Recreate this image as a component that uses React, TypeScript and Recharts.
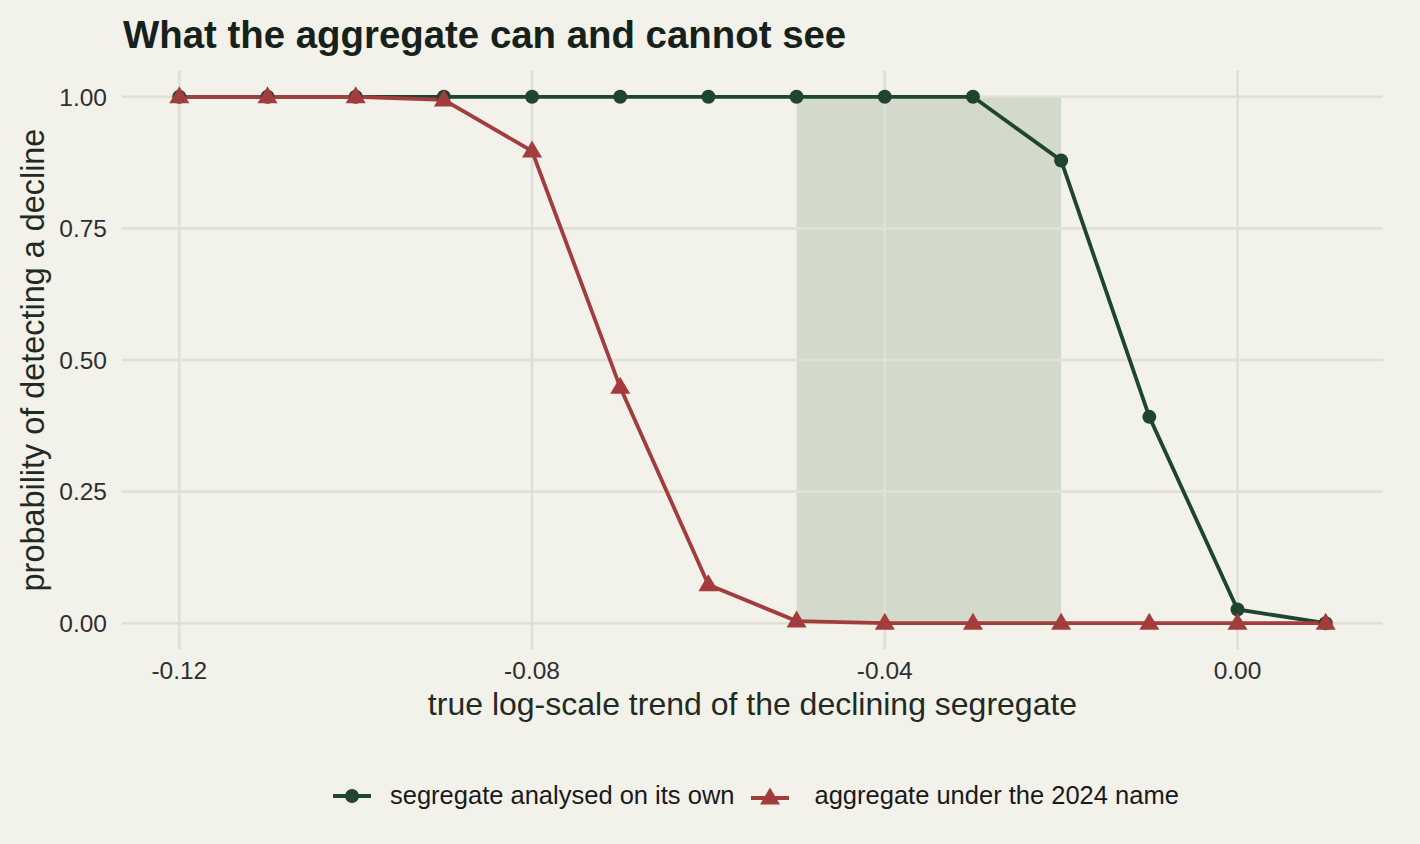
import React from 'react';
import {
  ComposedChart,
  Line,
  XAxis,
  YAxis,
  ReferenceLine,
  ReferenceArea,
  Legend,
} from 'recharts';

const trend = [-0.12, -0.11, -0.1, -0.09, -0.08, -0.07, -0.06, -0.05, -0.04, -0.03, -0.02, -0.01, 0, 0.01];
const segregateOwn = [1, 1, 1, 1, 1, 1, 1, 1, 1, 1, 0.879, 0.392, 0.026, 0];
const aggregate2024 = [1, 1, 1, 0.994, 0.897, 0.448, 0.073, 0.004, 0, 0, 0, 0, 0, 0];

const xTicks = [-0.12, -0.08, -0.04, 0];
const yTicks = [0, 0.25, 0.5, 0.75, 1];
const shadeRange = [-0.05, -0.02];

const seriesNames = ['segregate analysed on its own', 'aggregate under the 2024 name'];

const BG = '#f2f1ea';
const GRID = '#e1e0d5';
const GREEN = '#1f4530';
const RED = '#a33d3d';
const FONT = '"Liberation Sans", Arial, Helvetica, sans-serif';

const data = trend.map((t, i) => ({
  trend: t,
  own: segregateOwn[i],
  agg: aggregate2024[i],
}));

const fmtX = (v: number) => (v === 0 ? '0.00' : v.toFixed(2));
const fmtY = (v: number) => v.toFixed(2);

function Triangle(props: any) {
  const { cx, cy, index } = props;
  if (cx == null || cy == null) return <g key={`t-${index}`} />;
  return (
    <polygon
      key={`t-${index}`}
      points={`${cx},${cy - 10.5} ${cx - 10},${cy + 6.5} ${cx + 10},${cy + 6.5}`}
      fill={RED}
    />
  );
}

function LegendBox() {
  return (
    <div
      style={{
        display: 'flex',
        justifyContent: 'flex-start',
        alignItems: 'center',
        fontFamily: FONT,
        fontSize: 25.5,
        color: '#1a1a1a',
        paddingLeft: 333,
        whiteSpace: 'nowrap',
      }}
    >
      <svg width={38} height={22} style={{ marginRight: 19 }}>
        <line x1={0} y1={11} x2={38} y2={11} stroke={GREEN} strokeWidth={3.8} />
        <circle cx={19} cy={11} r={7} fill={GREEN} />
      </svg>
      <span style={{ marginRight: 17 }}>{seriesNames[0]}</span>
      <svg width={38} height={22} style={{ marginRight: 25 }}>
        <line x1={0} y1={13} x2={38} y2={13} stroke={RED} strokeWidth={3.8} />
        <polygon points="19,2.5 9,19.5 29,19.5" fill={RED} />
      </svg>
      <span>{seriesNames[1]}</span>
    </div>
  );
}

export default function App() {
  return (
    <div style={{ position: 'absolute', left: 0, top: 0, width: 1420, height: 844, background: BG }}>
      <svg width={1420} height={70} style={{ position: 'absolute', left: 0, top: 0 }}>
        <text x={123} y={48} fontFamily={FONT} fontSize={38.4} fontWeight={700} fill="#16211a">
          What the aggregate can and cannot see
        </text>
      </svg>
      <ComposedChart
        width={1420}
        height={844}
        data={data}
        margin={{ top: 70.5, right: 37, left: 0, bottom: 94.5 }}
        style={{ fontFamily: FONT }}
      >
        <XAxis
          dataKey="trend"
          type="number"
          domain={[-0.1265, 0.0165]}
          ticks={xTicks}
          tickFormatter={fmtX}
          axisLine={false}
          tickLine={false}
          tickSize={0}
          tickMargin={12}
          height={100}
          tick={{ fill: '#2f2f2f', fontSize: 24.5 }}
          label={{
            content: () => (
              <text x={752.5} y={715} textAnchor="middle" fontFamily={FONT} fontSize={32} fill="#1f2b23">
                true log-scale trend of the declining segregate
              </text>
            ),
          }}
        />
        <YAxis
          type="number"
          domain={[-0.05, 1.05]}
          ticks={yTicks}
          tickFormatter={fmtY}
          axisLine={false}
          tickLine={false}
          tickSize={0}
          tickMargin={15}
          width={122}
          tick={{ fill: '#2f2f2f', fontSize: 24.5 }}
          label={{
            content: () => (
              <text
                x={44}
                y={360}
                transform="rotate(-90 44 360)"
                textAnchor="middle"
                fontFamily={FONT}
                fontSize={32.4}
                fill="#1f2b23"
              >
                probability of detecting a decline
              </text>
            ),
          }}
        />
        {yTicks.map((t) => (
          <ReferenceLine key={`gy-${t}`} y={t} stroke={GRID} strokeWidth={2.6} />
        ))}
        {xTicks.map((t) => (
          <ReferenceLine key={`gx-${t}`} x={t} stroke={GRID} strokeWidth={2.6} />
        ))}
        <ReferenceArea
          x1={shadeRange[0]}
          x2={shadeRange[1]}
          y1={0}
          y2={1}
          fill="#5c834f"
          fillOpacity={0.2}
          stroke="none"
          ifOverflow="visible"
        />
        <Line
          type="linear"
          dataKey="own"
          name={seriesNames[0]}
          stroke={GREEN}
          strokeWidth={3.8}
          dot={{ r: 7, fill: GREEN, stroke: GREEN, strokeWidth: 0 }}
          activeDot={false}
          isAnimationActive={false}
        />
        <Line
          type="linear"
          dataKey="agg"
          name={seriesNames[1]}
          stroke={RED}
          strokeWidth={3.8}
          dot={Triangle}
          activeDot={false}
          isAnimationActive={false}
        />
        <Legend
          verticalAlign="middle"
          layout="horizontal"
          align="center"
          wrapperStyle={{ top: 781, left: 0, width: 1420 }}
          content={() => <LegendBox />}
        />
      </ComposedChart>
    </div>
  );
}
